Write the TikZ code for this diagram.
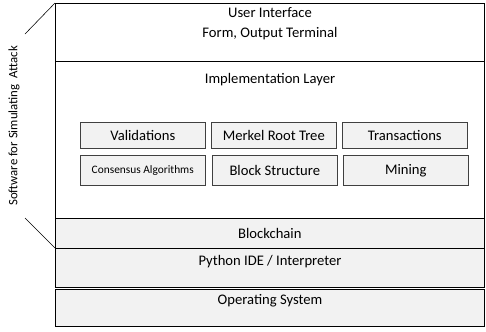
\documentclass[tikz,border=0pt]{standalone}
\usepackage{fontspec}
\setmainfont{Carlito}
\usetikzlibrary{shadows}

\begin{document}
\begin{tikzpicture}[x=0.025cm,y=-0.025cm,font=\fontsize{10.4}{12}\selectfont]
    \tikzstyle{layer}=[rectangle,draw=black,fill=gray!10,anchor=north west,inner sep=0pt,
        minimum width=429*0.025cm,drop shadow={shadow xshift=0.6pt,shadow yshift=-0.6pt,opacity=0.35}]
    \tikzstyle{part}=[rectangle,draw=black!75,fill=gray!10,anchor=north west,inner sep=0pt,
        minimum width=125*0.025cm,drop shadow={shadow xshift=0.7pt,shadow yshift=-0.7pt,opacity=0.35}]
    \useasboundingbox (0,0) rectangle (486,331);

    % stacked layers
    \node[layer,fill=white,minimum height=58*0.025cm] (ui) at (55,3) {};
    \node[layer,fill=white,minimum height=157*0.025cm] (impl) at (55,61) {};
    \node[layer,minimum height=30*0.025cm] (chain) at (55,218) {Blockchain};
    \node[layer,minimum height=39*0.025cm] (ide) at (55,248) {};
    \node[layer,minimum height=37*0.025cm] (os) at (55,289) {};

    \node (ui-t) at (270,24) {\begin{tabular}{c}User Interface\\[2.5pt]Form, Output Terminal\end{tabular}};
    \node (impl-t) at (270,80) {Implementation Layer};
    \node (ide-t) at (270,262) {Python IDE / Interpreter};
    \node (os-t) at (270,301) {Operating System};

    % modules of the implementation layer
    \foreach \name/\x/\txt in {val/80/Validations, mrt/211/Merkel Root Tree, tx/342/Transactions}
        \node[part,minimum height=26*0.025cm] (\name) at (\x,122) {\txt};
    \node[part,minimum height=30*0.025cm,font=\fontsize{8.1}{10}\selectfont] (cons) at (80,155) {Consensus Algorithms};
    \foreach \name/\x/\txt in {blk/212/Block Structure, mine/343/Mining}
        \node[part,minimum height=30*0.025cm] (\name) at (\x,155) {\txt};

    % bracket for the simulation software
    \coordinate (top) at (25,34);
    \coordinate (bot) at (25,218);
    \draw (top) -- (ui.north west);
    \draw (bot) -- (ide.north west);
    \node[rotate=90,font=\fontsize{9.1}{11}\selectfont] (sw) at (14,126) {Software for Simulating\ \ Attack};
\end{tikzpicture}
\end{document}
